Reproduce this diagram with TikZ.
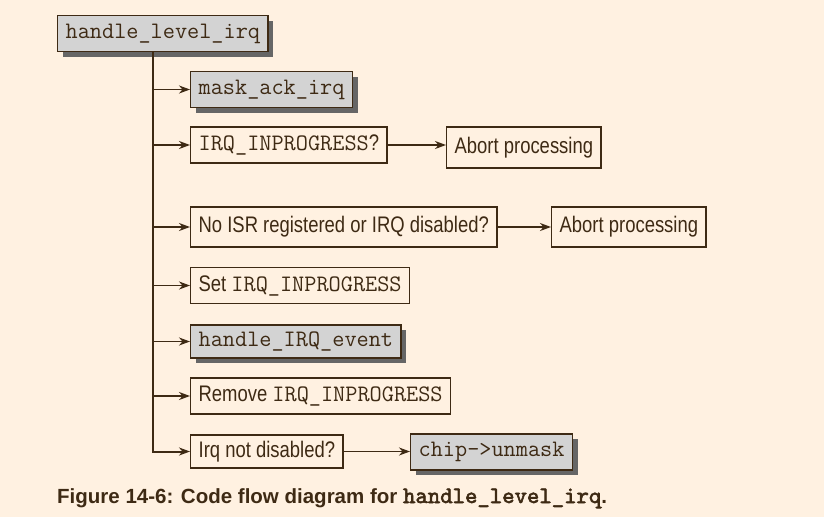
\documentclass[tikz,border=0pt]{standalone}
\usepackage{fontspec}
\setmainfont{Liberation Sans}[FakeStretch=0.82]
\newfontfamily\capfont{Liberation Sans}
\newfontfamily\capmono{lmmono10-regular.otf}[FakeBold=2.5]
\usetikzlibrary{arrows.meta,shadows}
\definecolor{paper}{RGB}{255,241,225}
\definecolor{ink}{RGB}{62,42,20}
\definecolor{boxgray}{RGB}{211,211,211}
\definecolor{shade}{RGB}{102,102,102}
\tikzset{>={Stealth[length=11pt,width=8pt,inset=3.5pt]}}
\tikzset{
  stepbox/.style={draw=ink, line width=1.3pt, fill=paper, anchor=west,
    inner xsep=8pt, minimum height=36pt, text=ink,
    font=\fontsize{22.5}{22.5}\selectfont},
  callbox/.style={stepbox, fill=boxgray, font=\fontsize{23.6}{23.6}\ttfamily,
    drop shadow={fill=shade, opacity=1, shadow xshift=5pt, shadow yshift=-5pt}},
  branch/.style={draw=ink, line width=1.5pt, ->},
}
\newcommand\code[1]{{\fontsize{23.6}{23.6}\ttfamily #1}}

\begin{document}
\begin{tikzpicture}[x=1pt,y=-1pt]

  \fill[paper] (0,0) rectangle (824,517);
  \useasboundingbox (0,0) rectangle (824,517);

  \node[callbox] (top) at (57,33.5) {handle\_level\_irq};
  \coordinate (tk) at (153,0);

  \node[callbox] (mask) at (190,89.5) {mask\_ack\_irq};
  \node[stepbox] (inprog) at (190,145) {\code{IRQ\_INPROGRESS}?};
  \node[stepbox, minimum height=41pt] (abortA) at (446,147.5) {Abort processing};
  \node[stepbox, minimum height=40pt] (noisr) at (190,227) {No ISR registered or IRQ disabled?};
  \node[stepbox, minimum height=40pt] (abortB) at (551,227) {Abort processing};
  \node[stepbox] (setinp) at (190,285.5) {Set \code{IRQ\_INPROGRESS}};
  \node[callbox, minimum height=33pt] (event) at (190,341.5) {handle\_IRQ\_event};
  \node[stepbox] (remove) at (190,396) {Remove \code{IRQ\_INPROGRESS}};
  \node[stepbox, minimum height=33pt] (notdis) at (190,451.5) {Irq not disabled?};
  \node[callbox] (unmask) at (410,452) {chip->unmask};

  % trunk and branches
  \draw[branch, line width=2pt] (top.south -| tk) |- (notdis.west);
  \foreach \n in {mask,inprog,noisr,setinp,event,remove}
    \draw[branch] (\n.west -| tk) -- (\n.west);

  \draw[branch] (inprog.east) -- (inprog.east -| abortA.west);
  \draw[branch] (noisr.east) -- (abortB.west);
  \draw[branch] (notdis.east) -- (notdis.east -| unmask.west);

  \node[anchor=base west, inner sep=0pt, text=ink,
    font=\capfont\bfseries\fontsize{20.5}{20.5}\selectfont] (caption) at (57,503)
    {Figure 14-6: Code flow diagram for {\capmono\fontsize{23.6}{23.6}\selectfont handle\_level\_irq}.};
\end{tikzpicture}
\end{document}
